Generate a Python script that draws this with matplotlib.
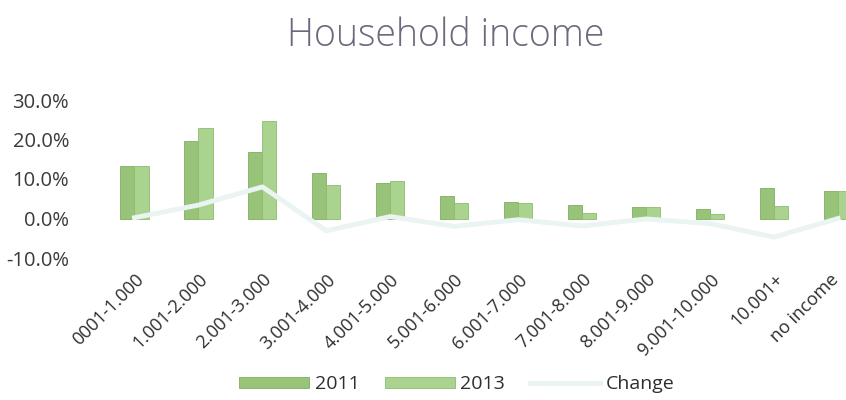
import numpy as np
import matplotlib.pyplot as plt
import matplotlib.transforms as mtransforms

# household income brackets
categories = ["0001-1.000", "1.001-2.000", "2.001-3.000", "3.001-4.000",
              "4.001-5.000", "5.001-6.000", "6.001-7.000", "7.001-8.000",
              "8.001-9.000", "9.001-10.000", "10.001+", "no income"]
share_2011 = [13.2, 19.5, 16.8, 11.5, 9.1, 5.8, 4.3, 3.4, 2.9, 2.5, 7.8, 7.0]
share_2013 = [13.4, 22.9, 24.8, 8.4, 9.6, 3.8, 4.0, 1.5, 2.8, 1.2, 3.1, 7.0]
change = [0.2, 3.4, 8.0, -3.1, 0.5, -2.0, -0.3, -1.9, -0.1, -1.3, -4.7, 0.0]

plt.rcParams['font.family'] = ['Open Sans', 'DejaVu Sans']

fig = plt.figure(figsize=(8.46, 4.00), dpi=100)
ax = fig.add_axes([102.5 / 846, 142 / 400, (846 - 102.5) / 846, 158 / 400])

x = np.arange(len(categories))
w = 0.22
b1 = ax.bar(x - w / 2, share_2011, width=w, color="#98c47a", edgecolor="#7fae62",
            linewidth=0.6, label="2011")
b2 = ax.bar(x + w / 2, share_2013, width=w, color="#a9d38e", edgecolor="#8dbb70",
            linewidth=0.6, label="2013")
ln, = ax.plot(x, change, color="#eaf4f2", linewidth=3.5, label="Change")

ax.set_xlim(-0.5, 11.125)
ax.set_ylim(-10, 30)
ax.set_yticks([-10, 0, 10, 20, 30])
ax.set_yticklabels([f"{v:.1f}%" for v in [-10, 0, 10, 20, 30]],
                   fontsize=14.5, color="#3a3a3a")
ax.set_xticks(x)
ax.set_xticklabels(categories, rotation=45, ha="right", rotation_mode="anchor",
                   fontsize=13, color="#2e2e2e")
ax.tick_params(axis="both", length=0)
ax.tick_params(axis="y", pad=24)
ax.tick_params(axis="x", pad=9)
for s in ax.spines.values():
    s.set_visible(False)

# keep the last label inside the figure
lab = ax.get_xticklabels()[-1]
lab.set_transform(lab.get_transform() +
                  mtransforms.ScaledTranslation(-8 / 100, 0, fig.dpi_scale_trans))

fig.text(0.527, 0.91, "Household income", ha="center", va="center",
         fontsize=27, color="#6a6a7e", fontweight="light")

fig.legend([b1, b2, ln], ["2011", "2013", "Change"],
           loc="center", bbox_to_anchor=(0.54, 0.04), ncol=3, frameon=False,
           fontsize=14, handlelength=3.6, handleheight=0.5, columnspacing=1.3,
           handletextpad=0.3, labelcolor="#2e2e2e")

fig.savefig("out.png", dpi=100)
